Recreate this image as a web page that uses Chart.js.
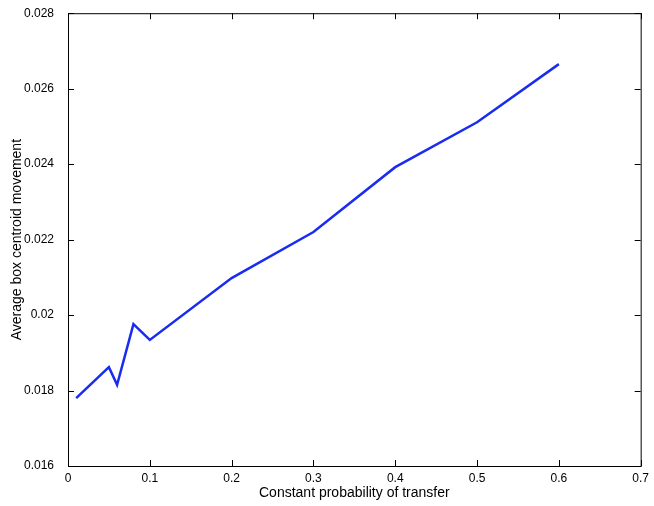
<!DOCTYPE html>
<html>
<head>
<meta charset="utf-8">
<script src="https://cdn.jsdelivr.net/npm/chart.js@4/dist/chart.umd.min.js"></script>
<style>
html, body { margin: 0; padding: 0; background: #fff; }
#wrap { width: 654px; height: 506px; }
</style>
</head>
<body>
<div id="wrap"><canvas id="c"></canvas></div>
<script>
var probs = [0.01, 0.05, 0.06, 0.08, 0.1, 0.2, 0.3, 0.4, 0.5, 0.6];
var movement = [0.0178, 0.01862, 0.01815, 0.01976, 0.01934, 0.02098, 0.0222, 0.02392, 0.02511, 0.02665];
var xTicks = [0, 0.1, 0.2, 0.3, 0.4, 0.5, 0.6, 0.7];
var yTicks = [0.016, 0.018, 0.02, 0.022, 0.024, 0.026, 0.028];

var points = [];
for (var i = 0; i < probs.length; i++) {
	points.push({x: probs[i], y: movement[i]});
}

// matlab style box with inward ticks
var boxPlugin = {
	id: 'box',
	afterDraw: function(chart) {
		var ctx = chart.ctx, a = chart.chartArea;
		var xs = chart.scales.x, ys = chart.scales.y;
		ctx.save();
		ctx.strokeStyle = '#000';
		ctx.lineWidth = 1;
		ctx.strokeRect(a.left + 0.5, a.top + 0.5, a.right - a.left, a.bottom - a.top);
		ctx.beginPath();
		xTicks.forEach(function(v) {
			var px = Math.round(xs.getPixelForValue(v)) + 0.5;
			ctx.moveTo(px, a.bottom); ctx.lineTo(px, a.bottom - 6);
			ctx.moveTo(px, a.top); ctx.lineTo(px, a.top + 6);
		});
		yTicks.forEach(function(v) {
			var py = Math.round(ys.getPixelForValue(v)) + 0.5;
			ctx.moveTo(a.left, py); ctx.lineTo(a.left + 6, py);
			ctx.moveTo(a.right, py); ctx.lineTo(a.right - 6, py);
		});
		ctx.stroke();
		ctx.restore();
	}
};

new Chart(document.getElementById('c'), {
	type: 'line',
	data: {
		datasets: [{
			data: points,
			borderColor: '#1a2cf0',
			borderWidth: 2.5,
			pointRadius: 0,
			tension: 0,
			fill: false
		}]
	},
	options: {
		responsive: true,
		maintainAspectRatio: false,
		animation: false,
		layout: { padding: { top: 12, right: 13, left: 7, bottom: 0 } },
		plugins: { legend: { display: false }, tooltip: { enabled: false } },
		scales: {
			x: {
				type: 'linear', min: 0, max: 0.7,
				afterBuildTicks: function(s) { s.ticks = xTicks.map(function(v) { return {value: v}; }); },
				afterFit: function(s) { s.height = 40; },
				grid: { display: false, tickLength: 0 },
				border: { display: false },
				ticks: { color: '#000', font: { family: 'Liberation Sans', size: 12 }, padding: 5, maxRotation: 0,
					callback: function(v) { return String(v); } },
				title: { display: true, text: 'Constant probability of transfer', color: '#000',
					font: { family: 'Liberation Sans', size: 14 }, padding: { top: 2, bottom: 4 } }
			},
			y: {
				min: 0.016, max: 0.028,
				afterBuildTicks: function(s) { s.ticks = yTicks.map(function(v) { return {value: v}; }); },
				afterFit: function(s) { s.width = 61; },
				grid: { display: false },
				border: { display: false },
				ticks: { color: '#000', font: { family: 'Liberation Sans', size: 12 }, padding: 6,
					callback: function(v) { return String(+v.toFixed(3)); } },
				title: { display: true, text: 'Average box centroid movement', color: '#000',
					font: { family: 'Liberation Sans', size: 14 }, padding: 2 }
			}
		}
	},
	plugins: [boxPlugin]
});
</script>
</body>
</html>
